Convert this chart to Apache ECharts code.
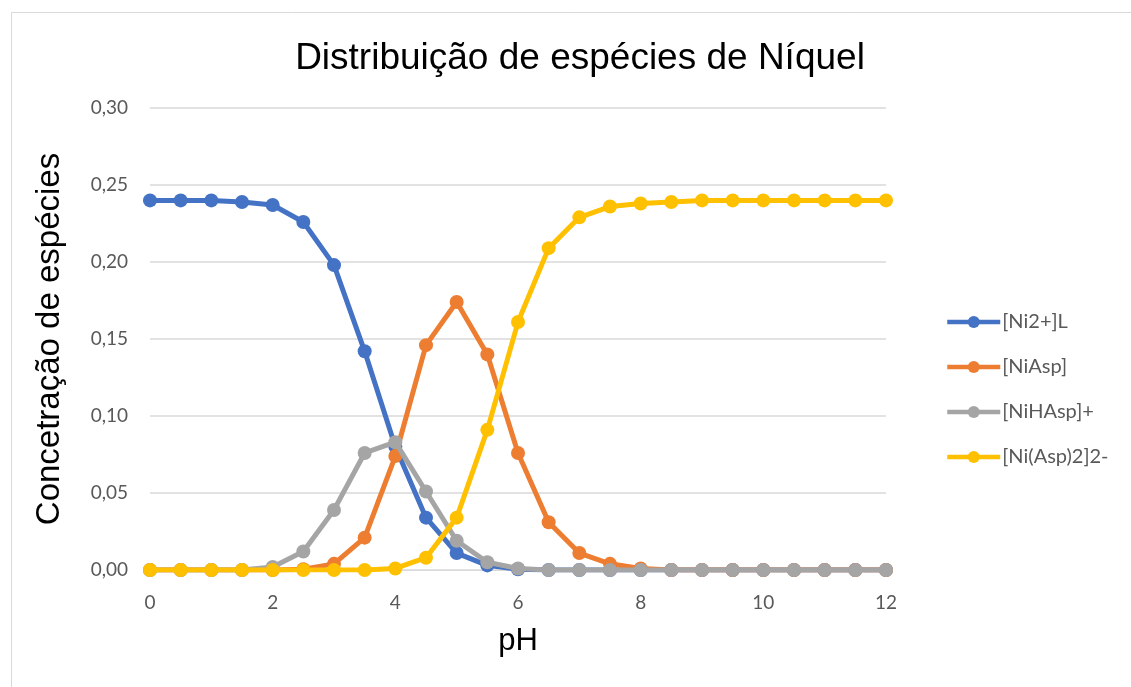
<!DOCTYPE html>
<html>
<head>
<meta charset="utf-8">
<script src="https://cdn.jsdelivr.net/npm/echarts@6/dist/echarts.min.js"></script>
<style>
html, body { margin: 0; padding: 0; background: #fff; }
#chart { width: 1131px; height: 687px; }
</style>
</head>
<body>
<div id="chart"></div>
<script>
// valores de pH
var phValues = [0, 0.5, 1, 1.5, 2, 2.5, 3, 3.5, 4, 4.5, 5, 5.5, 6, 6.5, 7, 7.5, 8, 8.5, 9, 9.5, 10, 10.5, 11, 11.5, 12];
var seriesNames = ['[Ni2+]L', '[NiAsp]', '[NiHAsp]+', '[Ni(Asp)2]2-'];
var seriesColors = ['#4472C4', '#ED7D31', '#A5A5A5', '#FFC000'];
// concentrações
var niL = [0.240, 0.240, 0.240, 0.239, 0.237, 0.226, 0.198, 0.142, 0.080, 0.034, 0.011, 0.003, 0.0005, 0, 0, 0, 0, 0, 0, 0, 0, 0, 0, 0, 0];
var niAsp = [0, 0, 0, 0, 0, 0.0005, 0.004, 0.021, 0.074, 0.146, 0.174, 0.140, 0.076, 0.031, 0.011, 0.004, 0.001, 0, 0, 0, 0, 0, 0, 0, 0];
var niHAsp = [0, 0, 0, 0, 0.002, 0.012, 0.039, 0.076, 0.083, 0.051, 0.019, 0.005, 0.001, 0, 0, 0, 0, 0, 0, 0, 0, 0, 0, 0, 0];
var niAsp2 = [0, 0, 0, 0, 0, 0, 0, 0, 0.001, 0.008, 0.034, 0.091, 0.161, 0.209, 0.229, 0.236, 0.238, 0.239, 0.240, 0.240, 0.240, 0.240, 0.240, 0.240, 0.240];

var myChart = echarts.init(document.getElementById('chart'));

function pairs(ys) {
	var out = [];
	for (var i = 0; i < phValues.length; i++) {
		out.push([phValues[i], ys[i]]);
	}
	return out;
}

var allData = [niL, niAsp, niHAsp, niAsp2];
var series = [];
for (var i = 0; i < allData.length; i++) {
	series.push({
		name: seriesNames[i],
		type: 'line',
		data: pairs(allData[i]),
		symbol: 'circle',
		symbolSize: 14,
		color: seriesColors[i],
		lineStyle: { width: 5, color: seriesColors[i] },
		itemStyle: { color: seriesColors[i] },
		emphasis: { disabled: true },
		z: 2 + i
	});
}

var tickFont = 'Lato, "Open Sans", sans-serif';
var nameFont = '"Liberation Sans", Arial, sans-serif';

var option = {
	animation: false,
	backgroundColor: '#fff',
	graphic: [{
		type: 'rect',
		shape: { x: 11.5, y: 12.5, width: 1140, height: 700 },
		style: { fill: 'none', stroke: '#d9d9d9', lineWidth: 1 },
		silent: true
	}],
	title: {
		text: 'Distribuição de espécies de Níquel',
		left: 575,
		textAlign: 'center',
		top: 35,
		textStyle: {
			fontFamily: nameFont,
			fontSize: 37,
			fontWeight: 'normal',
			color: '#000'
		}
	},
	legend: {
		orient: 'vertical',
		left: 940,
		top: 307,
		itemGap: 25,
		itemWidth: 53,
		itemHeight: 15,
		data: seriesNames,
		lineStyle: { width: 4.5 },
		textStyle: {
			fontFamily: tickFont,
			fontSize: 20,
			color: '#595959',
			padding: [0, 0, 0, -3]
		}
	},
	grid: {
		left: 150,
		right: 245,
		top: 108,
		bottom: 117
	},
	xAxis: {
		type: 'value',
		min: 0,
		max: 12,
		interval: 2,
		name: 'pH',
		nameLocation: 'middle',
		nameGap: 56,
		nameTextStyle: {
			fontFamily: nameFont,
			fontSize: 31,
			color: '#000'
		},
		axisLine: { show: true, lineStyle: { color: '#d9d9d9', width: 1 } },
		axisTick: { show: false },
		splitLine: { show: false },
		axisLabel: {
			margin: 23,
			fontFamily: tickFont,
			fontSize: 19,
			color: '#595959'
		}
	},
	yAxis: {
		type: 'value',
		min: 0,
		max: 0.3,
		interval: 0.05,
		name: 'Concetração de espécies',
		nameLocation: 'middle',
		nameGap: 84,
		nameTextStyle: {
			fontFamily: nameFont,
			fontSize: 33,
			color: '#000'
		},
		axisLine: { show: false },
		axisTick: { show: false },
		splitLine: { show: true, lineStyle: { color: '#d9d9d9', width: 1.5 } },
		axisLabel: {
			margin: 22,
			fontFamily: tickFont,
			fontSize: 19,
			color: '#595959',
			formatter: function(v) {
				return v.toFixed(2).replace('.', ',');
			}
		}
	},
	series: series
};
myChart.setOption(option);
</script>
</body>
</html>
